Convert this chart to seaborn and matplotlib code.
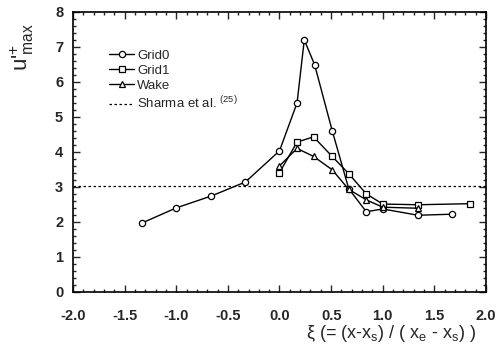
import numpy as np
import pandas as pd
import matplotlib
matplotlib.use("Agg")
import matplotlib.pyplot as plt
from matplotlib.ticker import MultipleLocator, FormatStrFormatter
import seaborn as sns

# DATA

grid0_x = [-1.33, -1.0, -0.66, -0.33, 0.0, 0.17, 0.24, 0.34, 0.51, 0.67, 0.84, 1.0, 1.34, 1.67]
grid0_y = [1.97, 2.40, 2.74, 3.14, 4.03, 5.40, 7.20, 6.49, 4.61, 2.95, 2.29, 2.37, 2.19, 2.22]

grid1_x = [0.0, 0.17, 0.33, 0.51, 0.67, 0.84, 1.0, 1.34, 1.84]
grid1_y = [3.41, 4.28, 4.43, 3.87, 3.38, 2.80, 2.51, 2.49, 2.52]

wake_x = [0.0, 0.17, 0.33, 0.51, 0.67, 0.84, 1.0, 1.34]
wake_y = [3.60, 4.10, 3.87, 3.49, 2.93, 2.63, 2.42, 2.39]

sharma_level = 3.03

series = [
    ("Grid0", grid0_x, grid0_y, "o"),
    ("Grid1", grid1_x, grid1_y, "s"),
    ("Wake", wake_x, wake_y, "^"),
]

# STYLE

sns.set_style("ticks")
plt.rcParams["font.family"] = ["Liberation Sans", "DejaVu Sans"]
plt.rcParams["mathtext.fontset"] = "custom"
plt.rcParams["mathtext.rm"] = "Liberation Sans"
plt.rcParams["mathtext.it"] = "Liberation Sans"
plt.rcParams["mathtext.bf"] = "Liberation Sans:bold"

fig = plt.figure(figsize=(4.96, 3.5), dpi=100)
ax = fig.add_axes([0.147, 0.166, 0.833, 0.8])

for name, xs, ys, mk in series:
    df = pd.DataFrame({"x": xs, "y": ys})
    sns.lineplot(data=df, x="x", y="y", sort=False, ax=ax,
                 color="black", linewidth=1.0,
                 marker=mk, markersize=4.5, markerfacecolor="white",
                 markeredgecolor="black", markeredgewidth=0.9,
                 label=name)

ax.axhline(sharma_level, color="black", linestyle=(0, (2.0, 2.0)),
           linewidth=0.9, label="Sharma et al. $^{(25)}$")

ax.set_xlim(-2.0, 2.0)
ax.set_ylim(0, 8)
ax.xaxis.set_major_locator(MultipleLocator(0.5))
ax.xaxis.set_minor_locator(MultipleLocator(0.1))
ax.xaxis.set_major_formatter(FormatStrFormatter("%.1f"))
ax.yaxis.set_major_locator(MultipleLocator(1))
ax.yaxis.set_minor_locator(MultipleLocator(0.2))

ax.tick_params(which="both", direction="in", top=True, right=True,
               width=1.0, labelsize=10.5)
ax.tick_params(which="major", length=5)
ax.tick_params(which="minor", length=2.5)
ax.tick_params(axis="x", which="major", pad=12)
ax.tick_params(axis="y", which="major", pad=7)
for lab in ax.get_xticklabels() + ax.get_yticklabels():
    lab.set_fontweight("bold")
for sp in ax.spines.values():
    sp.set_linewidth(1.2)
    sp.set_color("black")

ax.set_xlabel(r"ξ (= (x-x$_s$) / ( x$_e$ - x$_s$) )", fontsize=13)
ax.xaxis.set_label_coords(0.77, -0.112)
ax.set_ylabel(r"u$'^{+}_{max}$", fontsize=16)
ax.yaxis.set_label_coords(-0.09, 0.875)

ax.legend(loc="upper left", bbox_to_anchor=(0.075, 0.885), frameon=False,
          fontsize=9.5, handlelength=1.9, handletextpad=0.2,
          labelspacing=0.22, borderaxespad=0)

fig.savefig("out.png", dpi=100)
